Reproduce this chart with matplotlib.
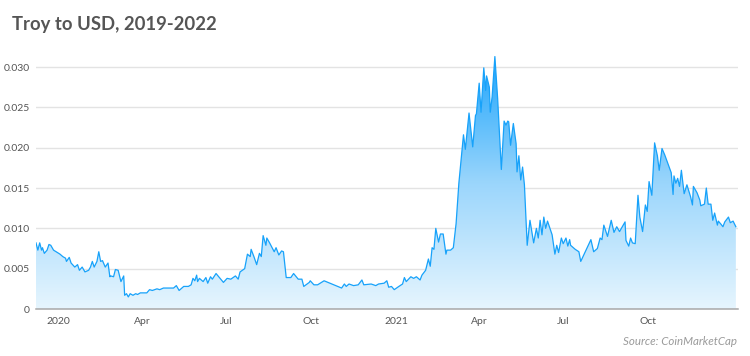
import numpy as np
import pandas as pd
import matplotlib
matplotlib.use("Agg")
import matplotlib.pyplot as plt
import matplotlib.dates as mdates
from matplotlib.colors import LinearSegmentedColormap
from matplotlib.ticker import FixedLocator, FuncFormatter

# TROY price in USD
dates = [
    "2019-12-08", "2019-12-10", "2019-12-12", "2019-12-14", "2019-12-15", "2019-12-17",
    "2019-12-20", "2019-12-22", "2019-12-24", "2019-12-27", "2020-01-03", "2020-01-06",
    "2020-01-09", "2020-01-10", "2020-01-13", "2020-01-15", "2020-01-19", "2020-01-22",
    "2020-01-24", "2020-01-27", "2020-01-30", "2020-02-03", "2020-02-05", "2020-02-07",
    "2020-02-09", "2020-02-12", "2020-02-14", "2020-02-16", "2020-02-18", "2020-02-21",
    "2020-02-24", "2020-02-26", "2020-02-27", "2020-03-01", "2020-03-03", "2020-03-06",
    "2020-03-09", "2020-03-12", "2020-03-13", "2020-03-15", "2020-03-17", "2020-03-19",
    "2020-03-22", "2020-03-25", "2020-03-27", "2020-03-30", "2020-04-06", "2020-04-09",
    "2020-04-12", "2020-04-17", "2020-04-20", "2020-04-24", "2020-05-05", "2020-05-08",
    "2020-05-11", "2020-05-16", "2020-05-21", "2020-05-24", "2020-05-26", "2020-05-28",
    "2020-05-30", "2020-05-31", "2020-06-02", "2020-06-06", "2020-06-09", "2020-06-11",
    "2020-06-14", "2020-06-16", "2020-06-20", "2020-06-28", "2020-07-02", "2020-07-06",
    "2020-07-11", "2020-07-14", "2020-07-16", "2020-07-21", "2020-07-24", "2020-07-27",
    "2020-07-28", "2020-07-31", "2020-08-03", "2020-08-06", "2020-08-08", "2020-08-10",
    "2020-08-13", "2020-08-14", "2020-08-17", "2020-08-22", "2020-08-24", "2020-08-27",
    "2020-08-30", "2020-09-01", "2020-09-04", "2020-09-09", "2020-09-12", "2020-09-17",
    "2020-09-21", "2020-09-23", "2020-09-29", "2020-09-30", "2020-10-04", "2020-10-08",
    "2020-10-15", "2020-11-03", "2020-11-06", "2020-11-08", "2020-11-11", "2020-11-16",
    "2020-11-21", "2020-11-25", "2020-11-27", "2020-12-05", "2020-12-10", "2020-12-13",
    "2020-12-19", "2020-12-22", "2020-12-24", "2020-12-27", "2020-12-30", "2021-01-04",
    "2021-01-08", "2021-01-10", "2021-01-12", "2021-01-17", "2021-01-20", "2021-01-23",
    "2021-01-27", "2021-01-29", "2021-02-02", "2021-02-05", "2021-02-07", "2021-02-09",
    "2021-02-11", "2021-02-13", "2021-02-16", "2021-02-18", "2021-02-21", "2021-02-24",
    "2021-02-25", "2021-03-01", "2021-03-04", "2021-03-07", "2021-03-10", "2021-03-15",
    "2021-03-17", "2021-03-21", "2021-03-25", "2021-03-28", "2021-03-29", "2021-04-01",
    "2021-04-03", "2021-04-06", "2021-04-08", "2021-04-09", "2021-04-12", "2021-04-13",
    "2021-04-15", "2021-04-18", "2021-04-21", "2021-04-25", "2021-04-28", "2021-04-30",
    "2021-05-02", "2021-05-03", "2021-05-05", "2021-05-08", "2021-05-11", "2021-05-12",
    "2021-05-14", "2021-05-16", "2021-05-18", "2021-05-20", "2021-05-23", "2021-05-26",
    "2021-05-30", "2021-06-02", "2021-06-04", "2021-06-06", "2021-06-08", "2021-06-10",
    "2021-06-12", "2021-06-14", "2021-06-19", "2021-06-22", "2021-06-24", "2021-06-26",
    "2021-06-29", "2021-07-01", "2021-07-04", "2021-07-06", "2021-07-08", "2021-07-09",
    "2021-07-14", "2021-07-18", "2021-07-20", "2021-07-31", "2021-08-03", "2021-08-07",
    "2021-08-10", "2021-08-12", "2021-08-14", "2021-08-18", "2021-08-22", "2021-08-25",
    "2021-08-28", "2021-08-31", "2021-09-06", "2021-09-07", "2021-09-10", "2021-09-12",
    "2021-09-14", "2021-09-17", "2021-09-20", "2021-09-22", "2021-09-25", "2021-09-28",
    "2021-09-30", "2021-10-02", "2021-10-05", "2021-10-08", "2021-10-11", "2021-10-13",
    "2021-10-16", "2021-10-19", "2021-10-26", "2021-10-28", "2021-10-29", "2021-10-31",
    "2021-11-02", "2021-11-04", "2021-11-06", "2021-11-09", "2021-11-12", "2021-11-16",
    "2021-11-18", "2021-11-19", "2021-11-23", "2021-11-26", "2021-11-27", "2021-12-01",
    "2021-12-03", "2021-12-05", "2021-12-08", "2021-12-10", "2021-12-12", "2021-12-15",
    "2021-12-16", "2021-12-19", "2021-12-21", "2021-12-23", "2021-12-27", "2021-12-29",
    "2022-01-01", "2022-01-04",
]
prices = [
    0.0082, 0.0073, 0.0082, 0.0073, 0.0076, 0.0069,
    0.0073, 0.0080, 0.0079, 0.0073, 0.0068, 0.0065,
    0.0063, 0.0059, 0.0064, 0.0057, 0.0052, 0.0055,
    0.0048, 0.0052, 0.0046, 0.0048, 0.0052, 0.0059,
    0.0052, 0.0059, 0.0071, 0.0059, 0.0060, 0.0052,
    0.0057, 0.0040, 0.0041, 0.0040, 0.0049, 0.0048,
    0.0034, 0.0041, 0.0017, 0.0019, 0.0015, 0.0019,
    0.0017, 0.0019, 0.0018, 0.0020, 0.0020, 0.0024,
    0.0023, 0.0025, 0.0024, 0.0026, 0.0026, 0.0029,
    0.0023, 0.0028, 0.0028, 0.0030, 0.0038, 0.0035,
    0.0042, 0.0034, 0.0038, 0.0034, 0.0039, 0.0032,
    0.0040, 0.0037, 0.0044, 0.0033, 0.0038, 0.0037,
    0.0041, 0.0037, 0.0046, 0.0050, 0.0068, 0.0065,
    0.0074, 0.0065, 0.0055, 0.0069, 0.0065, 0.0091,
    0.0079, 0.0088, 0.0082, 0.0071, 0.0076, 0.0067,
    0.0072, 0.0071, 0.0039, 0.0039, 0.0044, 0.0037,
    0.0037, 0.0028, 0.0033, 0.0035, 0.0030, 0.0030,
    0.0035, 0.0026, 0.0031, 0.0028, 0.0031, 0.0029,
    0.0030, 0.0036, 0.0030, 0.0031, 0.0029, 0.0031,
    0.0032, 0.0035, 0.0027, 0.0028, 0.0024, 0.0028,
    0.0031, 0.0039, 0.0034, 0.0040, 0.0038, 0.0040,
    0.0036, 0.0042, 0.0048, 0.0062, 0.0053, 0.0076,
    0.0074, 0.0100, 0.0083, 0.0093, 0.0093, 0.0068,
    0.0073, 0.0073, 0.0076, 0.0106, 0.0156, 0.0216,
    0.0198, 0.0243, 0.0201, 0.0240, 0.0242, 0.0280,
    0.0244, 0.0299, 0.0271, 0.0289, 0.0275, 0.0244,
    0.0263, 0.0313, 0.0261, 0.0173, 0.0233, 0.0228,
    0.0233, 0.0232, 0.0203, 0.0230, 0.0205, 0.0170,
    0.0190, 0.0160, 0.0176, 0.0154, 0.0079, 0.0110,
    0.0082, 0.0100, 0.0088, 0.0110, 0.0092, 0.0114,
    0.0100, 0.0109, 0.0092, 0.0068, 0.0079, 0.0070,
    0.0088, 0.0081, 0.0088, 0.0078, 0.0086, 0.0079,
    0.0074, 0.0071, 0.0059, 0.0086, 0.0071, 0.0075,
    0.0088, 0.0086, 0.0104, 0.0090, 0.0110, 0.0095,
    0.0102, 0.0096, 0.0108, 0.0085, 0.0078, 0.0088,
    0.0082, 0.0081, 0.0141, 0.0114, 0.0096, 0.0129,
    0.0121, 0.0158, 0.0141, 0.0206, 0.0190, 0.0172,
    0.0199, 0.0191, 0.0169, 0.0142, 0.0165, 0.0156,
    0.0162, 0.0152, 0.0172, 0.0143, 0.0154, 0.0139,
    0.0129, 0.0152, 0.0144, 0.0135, 0.0128, 0.0130,
    0.0150, 0.0130, 0.0130, 0.0110, 0.0119, 0.0104,
    0.0109, 0.0105, 0.0102, 0.0108, 0.0114, 0.0107,
    0.0109, 0.0102,
]
tick_dates = ["2020-01-01", "2020-04-01", "2020-07-01", "2020-10-01",
              "2021-01-01", "2021-04-01", "2021-07-01", "2021-10-01"]
tick_labels = ["2020", "Apr", "Jul", "Oct", "2021", "Apr", "Jul", "Oct"]
y_ticks = [0, 0.005, 0.010, 0.015, 0.020, 0.025, 0.030]

df = pd.DataFrame({"date": pd.to_datetime(dates), "price": prices})

plt.rcParams["font.family"] = ["Lato", "DejaVu Sans"]

fig = plt.figure(figsize=(7.5, 3.56), dpi=100)
ax = fig.add_axes([0.048, 0.132, 0.9356, 0.725])

x = mdates.date2num(df["date"])
y = df["price"].values

# gradient fill under the line
ymax = 0.032
cmap = LinearSegmentedColormap.from_list("troy", ["#e6f5fe", "#9bd6fc", "#20a5fb"])
grad = np.linspace(0, 1, 256).reshape(-1, 1)
poly = ax.fill_between(x, y, 0, color="none", lw=0)
img = ax.imshow(grad, cmap=cmap, aspect="auto", origin="lower",
                extent=[x.min(), x.max(), 0, 0.031], zorder=1)
img.set_clip_path(poly.get_paths()[0], transform=ax.transData)

ax.plot(x, y, color="#17a2fa", lw=0.9, zorder=3)

ax.set_xlim(mdates.date2num(pd.Timestamp("2019-12-08")),
            mdates.date2num(pd.Timestamp("2022-01-06")))
ax.set_ylim(0, ymax)

ax.xaxis.set_major_locator(FixedLocator(mdates.date2num(pd.to_datetime(tick_dates))))
ax.set_xticklabels(tick_labels)
ax.yaxis.set_major_locator(FixedLocator(y_ticks))
ax.yaxis.set_major_formatter(FuncFormatter(lambda v, p: "0" if v == 0 else f"{v:.3f}"))

ax.grid(axis="y", color="#e3e3e3", lw=1.0, zorder=0)
ax.set_axisbelow(True)
for s in ["top", "right", "left"]:
    ax.spines[s].set_visible(False)
ax.spines["bottom"].set_color("#a8a8a8")
ax.spines["bottom"].set_linewidth(1.1)
ax.spines["bottom"].set_zorder(4)
ax.tick_params(axis="both", length=0, labelsize=7.5, labelcolor="#555555")
ax.tick_params(axis="y", pad=4.5)
ax.tick_params(axis="x", pad=6)

fig.text(0.016, 0.93, "Troy to USD, 2019-2022", fontsize=13.3, fontweight="bold",
         color="#555555", va="center", ha="left")
fig.text(0.983, 0.042, "Source: CoinMarketCap", fontsize=8.3, style="italic",
         color="#9a9a9a", va="center", ha="right")

fig.savefig("out.png", dpi=100)
